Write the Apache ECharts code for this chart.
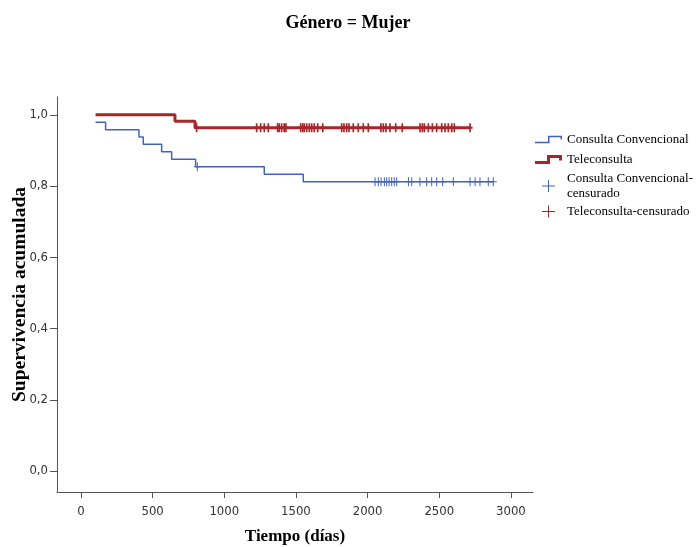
<!DOCTYPE html>
<html>
<head>
<meta charset="utf-8">
<title>Género = Mujer</title>
<script src="https://cdn.jsdelivr.net/npm/echarts@6/dist/echarts.min.js"></script>
<style>
html, body { margin: 0; padding: 0; background: #fff; }
#chart { width: 696px; height: 547px; }
</style>
</head>
<body>
<div id="chart"></div>
<script>
// pasos de Kaplan-Meier: tiempo (días) y supervivencia acumulada
const convTimes = [102, 172, 405, 435, 563, 633, 800, 1279, 1551, 2880];
const convSurv = [0.979, 0.958, 0.938, 0.917, 0.896, 0.875, 0.854, 0.833, 0.812, 0.812];
const teleTimes = [102, 656, 796, 2720];
const teleSurv = [1.0, 0.982, 0.964, 0.964];

// tiempos de los casos censurados
const convCensored = [812, 2052, 2075, 2094, 2117, 2133, 2150, 2168, 2186, 2203, 2285, 2308,
  2365, 2412, 2447, 2482, 2524, 2598, 2715, 2750, 2784, 2842, 2877];
const teleCensored = [807, 1226, 1254, 1279, 1307, 1372, 1383, 1400, 1418, 1430, 1533, 1547,
  1558, 1575, 1593, 1610, 1628, 1652, 1687, 1819, 1835, 1854, 1870, 1900, 1935, 1970, 2005,
  2093, 2110, 2128, 2156, 2196, 2242, 2366, 2382, 2396, 2424, 2452, 2482, 2517, 2540, 2563,
  2587, 2605, 2715];

const xTicks = [0, 500, 1000, 1500, 2000, 2500, 3000];
const yTicks = [0, 0.2, 0.4, 0.6, 0.8, 1.0];

const BLUE = '#4262c2';
const RED = '#a8262a';
const SERIF = '"Liberation Serif", "Times New Roman", serif';
const NARROW = '"Liberation Sans Narrow", "Arial Narrow", "DejaVu Sans Condensed", sans-serif';

// supervivencia en el tiempo t (ultimo paso <= t)
function survAt(times, surv, t) {
  let s = surv[0];
  for (let i = 0; i < times.length; i++) {
    if (times[i] <= t) s = surv[i];
  }
  return s;
}

const convLine = convTimes.map((t, i) => [t, convSurv[i]]);
const teleLine = teleTimes.map((t, i) => [t, teleSurv[i]]);
const convMarks = convCensored.map(t => [t, survAt(convTimes, convSurv, t)]);
const teleMarks = teleCensored.map(t => [t, survAt(teleTimes, teleSurv, t)]);

// iconos de la leyenda (caja de 27x12)
const stepThin = 'path://M0,0 M27,12 M0,8.25 H13 V2.25 H27 V6 H25.5 V3.75 H14.5 V9.75 H0 Z';
const stepThick = 'path://M0,0 M27,12 M0,7.5 H12 V1.5 H27 V7 H24 V4.5 H15 V10.5 H0 Z';
const plusIcon = 'path://M0,0 M27,12 M13,0 H14 V5.5 H20 V6.5 H14 V12 H13 V6.5 H7 V5.5 H13 Z';

function legendItem(name, icon, top) {
  return {
    data: [{ name: name, icon: icon }],
    orient: 'vertical',
    left: 535,
    top: top,
    padding: 0,
    itemWidth: 27,
    itemHeight: 12,
    selectedMode: false,
    formatter: n => n === 'Consulta Convencional-censurado' ? 'Consulta Convencional-\ncensurado' : n,
    textStyle: { fontFamily: SERIF, fontSize: 13, color: '#000', lineHeight: 15 }
  };
}

const chart = echarts.init(document.getElementById('chart'));
chart.setOption({
  animation: false,
  backgroundColor: '#fff',
  title: {
    text: 'Género = Mujer',
    left: 'center',
    top: 9,
    textStyle: { fontFamily: SERIF, fontSize: 18, fontWeight: 'bold', color: '#000' }
  },
  legend: [
    legendItem('Consulta Convencional', stepThin, 132),
    legendItem('Teleconsulta', stepThick, 152),
    legendItem('Consulta Convencional-censurado', plusIcon, 171),
    legendItem('Teleconsulta-censurado', plusIcon, 204)
  ],
  grid: { left: 57, right: 163, top: 97, bottom: 55, containLabel: false, outerBoundsMode: 'none' },
  xAxis: {
    type: 'value',
    min: -167,
    max: 3154,
    name: 'Tiempo (días)',
    nameLocation: 'middle',
    nameGap: 36,
    nameMoveOverlap: false,
    nameTextStyle: { fontFamily: SERIF, fontSize: 17, fontWeight: 'bold', color: '#000' },
    axisLine: { show: true, onZero: false, lineStyle: { color: '#555', width: 1 } },
    axisTick: { show: true, length: 6, customValues: xTicks, lineStyle: { color: '#555' } },
    axisLabel: {
      customValues: xTicks,
      margin: 13,
      fontFamily: NARROW,
      fontSize: 13,
      color: '#333',
      formatter: v => String(v)
    },
    splitLine: { show: false }
  },
  yAxis: {
    type: 'value',
    min: -0.059,
    max: 1.05,
    name: 'Supervivencia acumulada',
    nameLocation: 'middle',
    nameGap: 27,
    nameMoveOverlap: false,
    nameTextStyle: { fontFamily: SERIF, fontSize: 19.5, fontWeight: 'bold', color: '#000' },
    axisLine: { show: true, onZero: false, lineStyle: { color: '#555', width: 1 } },
    axisTick: { show: true, length: 7, customValues: yTicks, lineStyle: { color: '#555' } },
    axisLabel: {
      customValues: yTicks,
      margin: 9,
      fontFamily: NARROW,
      fontSize: 13,
      color: '#333',
      formatter: v => v.toFixed(1).replace('.', ',')
    },
    splitLine: { show: false }
  },
  series: [
    {
      name: 'Consulta Convencional',
      type: 'line',
      step: 'end',
      data: convLine,
      showSymbol: false,
      itemStyle: { color: BLUE },
      lineStyle: { color: BLUE, width: 1.5 },
      z: 2
    },
    {
      name: 'Teleconsulta',
      type: 'line',
      step: 'end',
      data: teleLine,
      showSymbol: false,
      itemStyle: { color: RED },
      lineStyle: { color: RED, width: 3 },
      z: 2
    },
    {
      name: 'Consulta Convencional-censurado',
      type: 'scatter',
      data: convMarks,
      symbol: 'path://M3,0 H4 V4 H7 V5 H4 V9 H3 V5 H0 V4 H3 Z',
      symbolSize: [7, 9],
      itemStyle: { color: BLUE, opacity: 1 },
      z: 3
    },
    {
      name: 'Teleconsulta-censurado',
      type: 'scatter',
      data: teleMarks,
      symbol: 'path://M2,0 H4 V3.5 H6 V5.5 H4 V9 H2 V5.5 H0 V3.5 H2 Z',
      symbolSize: [5, 9],
      itemStyle: { color: RED, opacity: 1 },
      z: 3
    }
  ]
});
</script>
</body>
</html>
